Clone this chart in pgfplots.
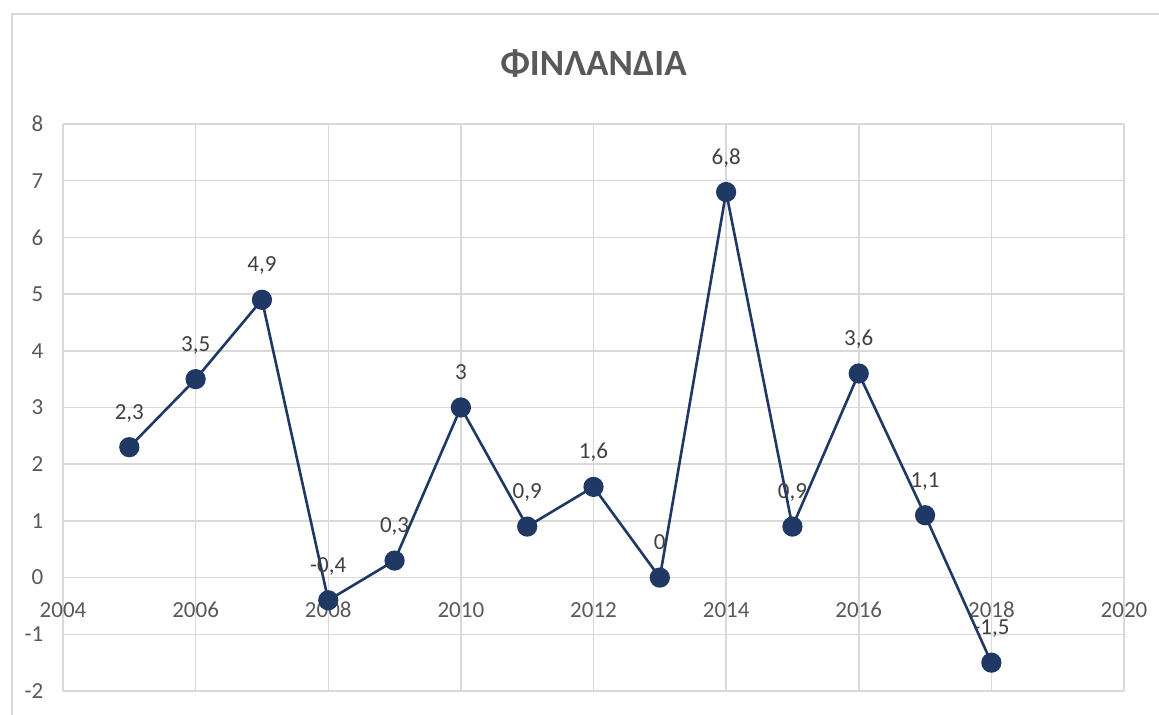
\documentclass[border=0pt]{standalone}
\usepackage{fontspec}
\setmainfont{Carlito}
\usepackage{pgfplots}
\pgfplotsset{compat=1.18}
\usepackage{pgfplotstable}
\definecolor{navy}{HTML}{1F3864}
\definecolor{gridc}{HTML}{D9D9D9}
\definecolor{tickc}{HTML}{595959}
\definecolor{lblc}{HTML}{404040}

\pgfplotstableread{
year value label
2005 2.3 2,3
2006 3.5 3,5
2007 4.9 4,9
2008 -0.4 -0,4
2009 0.3 0,3
2010 3 3
2011 0.9 0,9
2012 1.6 1,6
2013 0 0
2014 6.8 6,8
2015 0.9 0,9
2016 3.6 3,6
2017 1.1 1,1
2018 -1.5 -1,5
}\finland

\begin{document}
\begin{tikzpicture}
\useasboundingbox (0,0) rectangle (579.5bp,357.5bp);
\draw[gridc, line width=1bp] (6bp,0) -- (6bp,350.5bp) -- (579.5bp,350.5bp);
\node[anchor=base, font=\fontsize{18.5bp}{20bp}\selectfont\bfseries, text=tickc] at (296.75bp,319.5bp) {ΦΙΝΛΑΝΔΙΑ};
\begin{axis}[
  at={(31.5bp,12bp)}, anchor=south west,
  width=530.5bp, height=283.5bp, scale only axis,
  xmin=2004, xmax=2020, ymin=-2, ymax=8,
  xtick={2004,2006,...,2020},
  xticklabels={2004,2006,2008,2010,2012,2014,2016,2018,2020},
  ytick={-2,-1,...,8},
  yticklabels={-2,-1,0,1,2,3,4,5,6,7,8},
  grid=major, major grid style={gridc, line width=0.75bp},
  axis line style={draw=none}, major tick length=0,
  tick label style={font=\fontsize{11.5bp}{13bp}\selectfont, text=tickc},
  xticklabel style={yshift=47.9bp},
  yticklabel style={xshift=-6.3bp},
  clip=false,
]
\addplot[color=navy, line width=1.3bp, mark=*, mark size=4.4bp,
  mark options={fill=navy, draw=navy},
  nodes near coords, point meta=explicit symbolic,
  nodes near coords style={anchor=base, yshift=14bp, font=\fontsize{11.5bp}{13bp}\selectfont, text=lblc}]
  table[x=year, y=value, meta=label] {\finland};
\end{axis}
\end{tikzpicture}
\end{document}
